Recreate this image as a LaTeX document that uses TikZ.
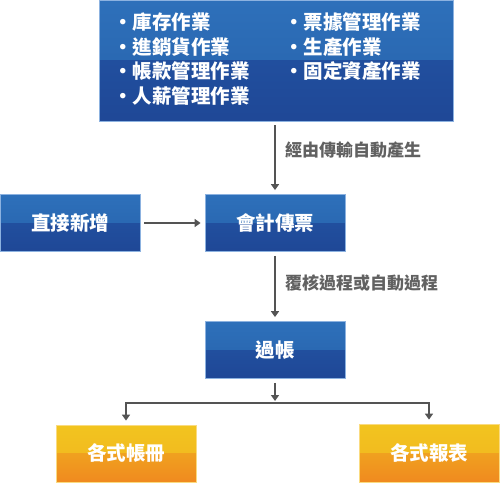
\documentclass[tikz,border=0pt]{standalone}
\usepackage{fontspec}
\newfontfamily\cjk{Noto Sans CJK TC}
\usepackage{tikz}
\usetikzlibrary{arrows.meta}
\usetikzlibrary{positioning}
\definecolor{mblueup}{rgb}{0.18, 0.44, 0.73}
\definecolor{mbluemid}{rgb}{0.15, 0.38, 0.67}
\definecolor{mbluelow}{rgb}{0.13, 0.31, 0.62}
\definecolor{mbluedown}{rgb}{0.12, 0.28, 0.59}
\definecolor{mblueline}{rgb}{0.55, 0.70, 0.88}
\definecolor{morangeup}{rgb}{0.95, 0.77, 0.12}
\definecolor{morangemid}{rgb}{0.95, 0.70, 0.12}
\definecolor{morangelow}{rgb}{0.94, 0.63, 0.12}
\definecolor{morangedown}{rgb}{0.94, 0.54, 0.12}
\definecolor{morangeline}{rgb}{0.98, 0.86, 0.50}
\definecolor{mgrey}{rgb}{0.33, 0.33, 0.33}
\definecolor{mtext}{rgb}{0.38, 0.38, 0.38}
\tikzset{box/.style = {rectangle, line width = 0.8, minimum width = 140, minimum height = 57, inner sep = 0, text = white, font = \cjk\bfseries\fontsize{19.5}{20}\selectfont}}
\tikzset{bluebox/.style = {box, draw = mblueline, path picture = {
      \fill [top color = mblueup, bottom color = mbluemid] (path picture bounding box.north west) rectangle (path picture bounding box.east);
      \fill [top color = mbluelow, bottom color = mbluedown] (path picture bounding box.west) rectangle (path picture bounding box.south east);}}}
\tikzset{orangebox/.style = {box, draw = morangeline, path picture = {
      \fill [top color = morangeup, bottom color = morangemid] (path picture bounding box.north west) rectangle (path picture bounding box.east);
      \fill [top color = morangelow, bottom color = morangedown] (path picture bounding box.west) rectangle (path picture bounding box.south east);}}}
\tikzset{item/.style = {anchor = west, inner sep = 0, text = white, font = \cjk\bfseries\fontsize{19.5}{20}\selectfont}}
\tikzset{note/.style = {anchor = west, inner sep = 0, text = mtext, font = \cjk\bfseries\fontsize{17}{18}\selectfont}}
\tikzset{flow/.style = {draw = mgrey, line width = 1.5, -{Triangle[width = 8pt, length = 6pt]}, shorten > = 4, shorten < = 4}}

\begin{document}
\begin{tikzpicture}[x = 1pt, y = -1pt]
    \useasboundingbox (0, 0) rectangle (500, 482);

    \node [bluebox, minimum width = 354, minimum height = 121] (jobs) at (276, 60.5) {};
    \node [item] (stock) at (113, 22) {·庫存作業};
    \node [item] (sales) at (113, 47) {·進銷貨作業};
    \node [item] (accounts) at (113, 71) {·帳款管理作業};
    \node [item] (payroll) at (113, 96) {·人薪管理作業};
    \node [item] (bills) at (284, 22) {·票據管理作業};
    \node [item] (production) at (284, 47) {·生產作業};
    \node [item] (assets) at (284, 71) {·固定資產作業};

    \node [bluebox] (direct) at (70, 223) {直接新增};
    \node [bluebox] (voucher) at (275, 223) {會計傳票};
    \node [bluebox] (posting) at (275, 350) {過帳};

    \node [orangebox] (ledger) at (126, 453.5) {各式帳冊};
    \node [orangebox, minimum height = 58] (report) at (429, 453) {各式報表};

    \node [note] (transfer) at (285, 150) {經由傳輸自動產生};
    \node [note] (review) at (285, 283) {覆核過程或自動過程};

    \draw [flow] (jobs.south -| voucher) -- (voucher);
    \draw [flow] (direct) -- (voucher);
    \draw [flow] (voucher) -- (posting);

    \coordinate (split) at (275, 403);
    \draw [flow, shorten > = 2] (posting) -- (split);
    \draw [flow, shorten < = 0] (split) -| (ledger);
    \draw [flow, shorten < = 0] (split) -| (report);
  \end{tikzpicture}
\end{document}
